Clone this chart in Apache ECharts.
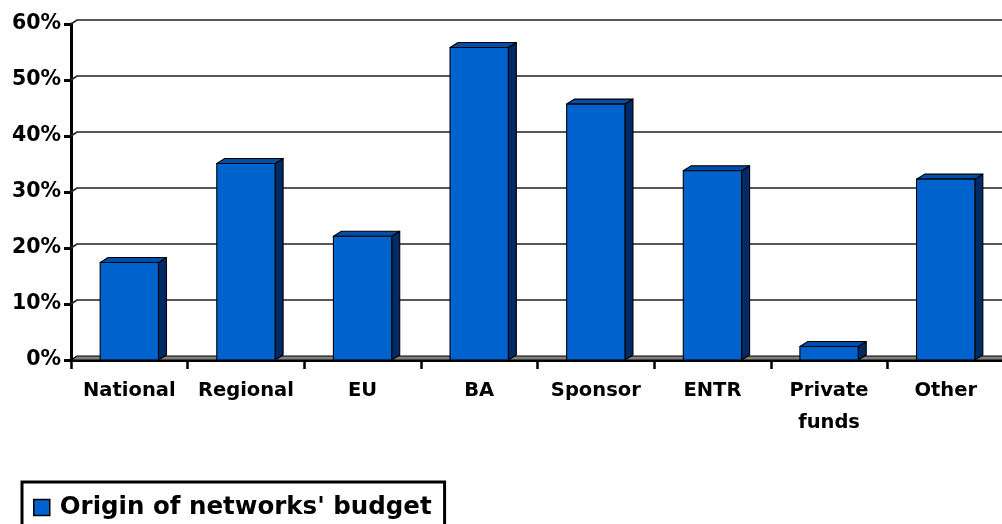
<!DOCTYPE html>
<html>
<head>
<meta charset="utf-8">
<script src="https://cdn.jsdelivr.net/npm/echarts@6/dist/echarts.min.js"></script>
<style>
  html, body { margin: 0; padding: 0; background: #fff; overflow: hidden; }
  #chart { width: 1010px; height: 524px; }
</style>
</head>
<body>
<div id="chart"></div>
<script>
// Share of network budget by funding origin (percent)
const categories = ['National', 'Regional', 'EU', 'BA', 'Sponsor', 'ENTR', 'Private\nfunds', 'Other'];
const budgetShare = [17.4, 35.1, 22.1, 55.8, 45.7, 33.8, 2.4, 32.3];
const yTicks = [0, 10, 20, 30, 40, 50, 60];
const seriesName = "Origin of networks' budget";

// 3D look: depth offset of the back wall / bar side in pixels
const DX = 8, DY = 5;
const WALL_DX = 6, WALL_DY = 4;

const FRONT = '#0062cc';
const TOP = '#004ea8';
const SIDE = '#002a66';
const FONT = 'DejaVu Sans';

const chart = echarts.init(document.getElementById('chart'), null, { renderer: 'canvas' });

chart.setOption({
  animation: false,
  backgroundColor: '#fff',
  grid: { left: 71, right: 6, top: 24, bottom: 164, containLabel: false },
  xAxis: {
    type: 'category',
    data: categories,
    boundaryGap: true,
    axisLine: { show: true, onZero: false, lineStyle: { color: '#000', width: 3 } },
    axisTick: { show: true, alignWithLabel: false, length: 9, lineStyle: { color: '#000', width: 2.5 } },
    axisLabel: {
      color: '#000', fontFamily: FONT, fontWeight: 'bold', fontSize: 19.5,
      margin: 15, lineHeight: 32, interval: 0
    },
    splitLine: { show: false }
  },
  yAxis: {
    type: 'value',
    min: 0, max: 60, interval: 10,
    axisLine: { show: true, lineStyle: { color: '#000', width: 3 } },
    axisTick: { show: true, length: 7, lineStyle: { color: '#000', width: 3 } },
    axisLabel: {
      color: '#000', fontFamily: FONT, fontWeight: 'bold', fontSize: 20.5,
      margin: 10, formatter: '{value}%'
    },
    splitLine: { show: false }
  },
  legend: {
    show: true,
    left: 22, top: 482,
    padding: [13, 13, 30, 11],
    borderColor: '#000', borderWidth: 3,
    itemWidth: 16, itemHeight: 16, itemGap: 8,
    textStyle: { color: '#000', fontFamily: FONT, fontWeight: 'bold', fontSize: 24.5, padding: [0, 0, 0, 5] },
    data: [{ name: seriesName, icon: 'rect', itemStyle: { color: FRONT, borderColor: '#000', borderWidth: 1.5 } }]
  },
  series: [
    {
      // back-wall gridlines and floor
      type: 'custom',
      name: 'wall',
      silent: true,
      z: 1,
      clip: false,
      encode: { x: 0, y: 1 },
      data: yTicks.map(v => [0, v]),
      renderItem: function (params, api) {
        const cs = params.coordSys;
        const y = api.coord([0, api.value(1)])[1];
        const x0 = cs.x, x1 = cs.x + cs.width + 10;
        const children = [];
        if (api.value(1) === 0) {
          children.push({
            type: 'polygon',
            shape: { points: [[x0, y], [x0 + WALL_DX, y - WALL_DY], [x1, y - WALL_DY], [x1, y]] },
            style: { fill: '#808080', stroke: '#000', lineWidth: 1.2 }
          });
        } else {
          children.push({
            type: 'polyline',
            shape: { points: [[x0, y], [x0 + WALL_DX, y - WALL_DY], [x1, y - WALL_DY]] },
            style: { fill: null, stroke: '#222', lineWidth: 1.6 }
          });
        }
        return { type: 'group', children: children };
      }
    },
    {
      type: 'custom',
      name: seriesName,
      z: 3,
      clip: false,
      itemStyle: { color: FRONT },
      encode: { x: 0, y: 1 },
      data: budgetShare.map((v, i) => [i, v]),
      renderItem: function (params, api) {
        const idx = api.value(0);
        const top = api.coord([idx, api.value(1)]);
        const base = api.coord([idx, 0]);
        const w = api.size([1, 0])[0] * 0.5;
        const xl = top[0] - w / 2, xr = top[0] + w / 2;
        const yt = top[1], yb = base[1];
        const edge = { stroke: '#000', lineWidth: 1.1, lineJoin: 'round' };
        return {
          type: 'group',
          children: [
            {
              type: 'polygon',
              shape: { points: [[xr, yt], [xr + DX, yt - DY], [xr + DX, yb - DY], [xr, yb]] },
              style: Object.assign({ fill: SIDE }, edge)
            },
            {
              type: 'polygon',
              shape: { points: [[xl, yt], [xl + DX, yt - DY], [xr + DX, yt - DY], [xr, yt]] },
              style: Object.assign({ fill: TOP }, edge)
            },
            {
              type: 'rect',
              shape: { x: xl, y: yt, width: w, height: yb - yt },
              style: Object.assign({ fill: FRONT }, edge)
            }
          ]
        };
      }
    }
  ]
});
</script>
</body>
</html>
